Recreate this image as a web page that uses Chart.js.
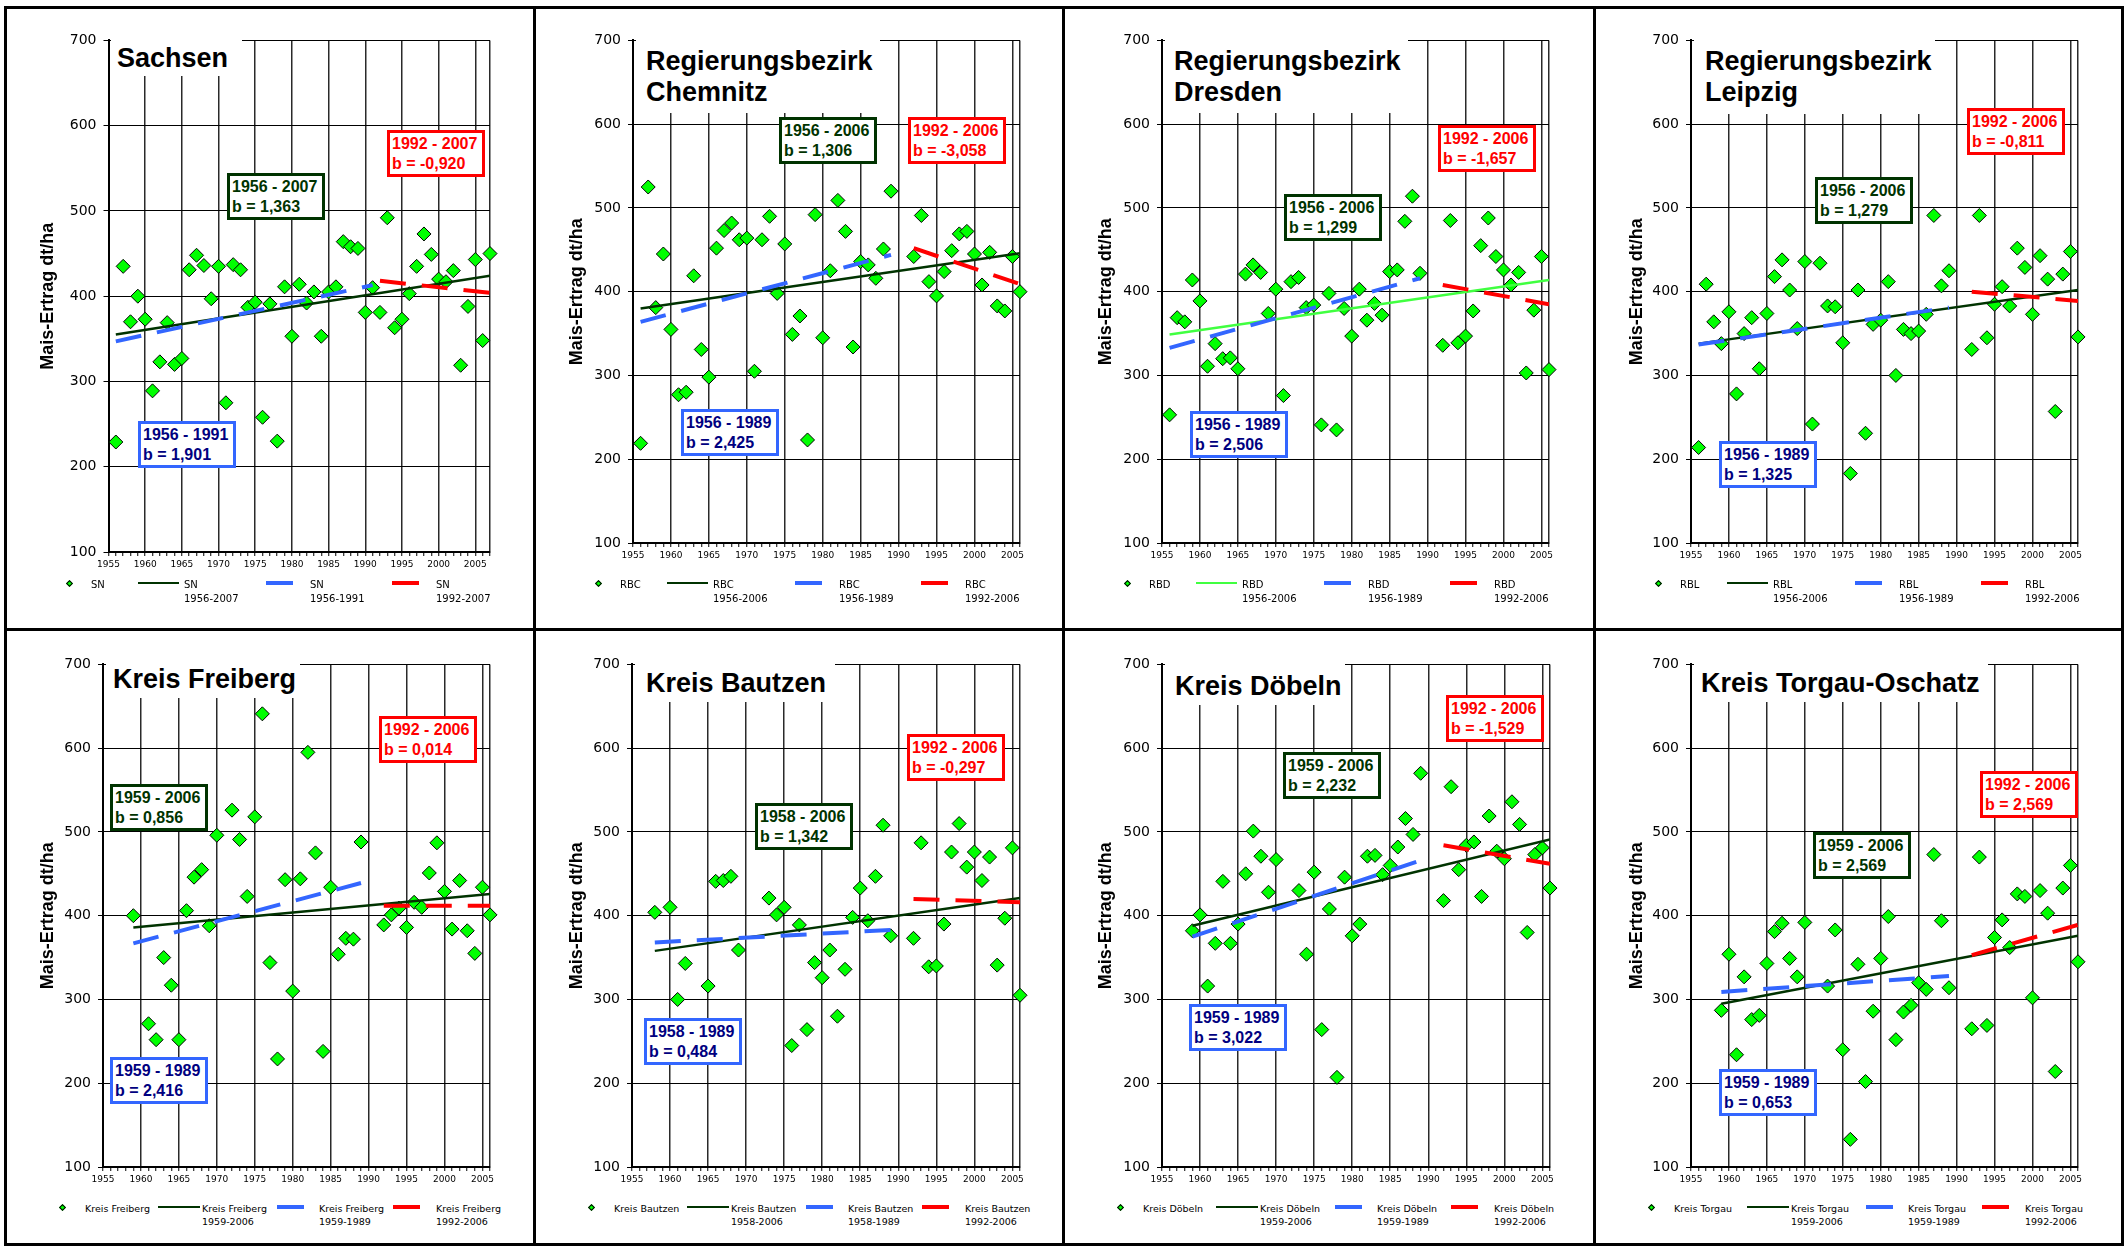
<!DOCTYPE html>
<html>
<head>
<meta charset="utf-8">
<title>Mais-Ertrag Sachsen</title>
<script src="https://cdn.jsdelivr.net/npm/chart.js@4.4.1/dist/chart.umd.min.js"></script>
<style>
  body { margin: 0; background: #fff; }
  #page { position: relative; width: 2127px; height: 1248px; overflow: hidden; background: #fff;
          font-family: "Liberation Sans", Arial, sans-serif; }
  .frame { position: absolute; background: #000; }
  canvas { position: absolute; }
  .title { position: absolute; background: #fff; font-weight: bold; font-size: 27px; line-height: 31px;
           color: #000; white-space: nowrap; box-sizing: border-box; }
  .box { position: absolute; width: 98px; height: 47px; box-sizing: border-box; border: 3px solid; background: #fff;
         font-weight: bold; font-size: 16px; line-height: 20px; padding: 1px 0 0 2px; white-space: nowrap; }
  .box.green { border-color: #003300; color: #003300; }
  .box.red { border-color: #ff0000; color: #ff0000; }
  .box.blue { border-color: #3366ff; color: #000080; }
  .leg { position: absolute; font-family: "DejaVu Sans", sans-serif; color: #000; white-space: nowrap; }
  .legline { position: absolute; }
  .legmark { position: absolute; width: 3px; height: 3px; border: 1px solid #000; background: #00ff00; transform: rotate(45deg); }
</style>
</head>
<body>
<div id="page"></div>
<script>
// Years on the x axis (one value per year)
const years = [1956, 1957, 1958, 1959, 1960, 1961, 1962, 1963, 1964, 1965,
               1966, 1967, 1968, 1969, 1970, 1971, 1972, 1973, 1974, 1975,
               1976, 1977, 1978, 1979, 1980, 1981, 1982, 1983, 1984, 1985,
               1986, 1987, 1988, 1989, 1990, 1991, 1992, 1993, 1994, 1995,
               1996, 1997, 1998, 1999, 2000, 2001, 2002, 2003, 2004, 2005,
               2006, 2007];

// Mais-Ertrag dt/ha per year (null = no value)
const yieldSN  = [229, 435, 370, 400, 373, 289, 323, 369, 320, 327, 431, 448, 436, 397, 435, 275, 437, 431, 387, 393,
                  258, 391, 230, 411, 353, 414, 392, 405, 353, 405, 411, 464, 458, 456, 381, 410, 381, 492, 363, 373,
                  403, 435, 473, 449, 420, 417, 430, 319, 388, 443, 348, 450];
const yieldRBC = [219, 525, 381, 445, 355, 277, 280, 419, 331, 298, 452, 473, 482, 462, 464, 305, 462, 490, 398, 457,
                  349, 371, 223, 492, 345, 425, 509, 472, 334, 436, 432, 416, 451, 520, null, null, 442, 491, 412, 395,
                  424, 449, 469, 472, 445, 408, 447, 383, 377, 442, 400, null];
const yieldRBD = [253, 369, 364, 414, 389, 311, 338, 320, 321, 308, 421, 432, 423, 374, 403, 276, 412, 417, 381, 384,
                  241, 398, 235, 380, 347, 403, 366, 386, 372, 424, 426, 484, 514, 422, null, null, 336, 485, 339, 347,
                  377, 455, 488, 442, 426, 408, 423, 303, 378, 442, 307, null];
const yieldRBL = [214, 409, 364, 338, 376, 278, 350, 369, 308, 374, 418, 438, 402, 356, 436, 242, 434, 383, 382, 339,
                  183, 402, 231, 361, 366, 412, 300, 355, 350, 353, 373, 491, 407, 425, null, null, 331, 491, 345, 385,
                  406, 383, 452, 429, 373, 443, 415, 257, 421, 448, 346, null];
const yieldKF  = [null, null, null, 400, null, 271, 252, 350, 317, 252, 406, 446, 455, 388, 496, null, 526, 491, 423, 518,
                  641, 344, 229, 443, 310, 444, 595, 475, 238, 434, 354, 373, 372, 488, null, null, 389, 401, 409, 386,
                  416, 410, 451, 487, 429, 384, 442, 382, 355, 434, 401, null];
const yieldKB  = [null, null, 404, null, 410, 300, 343, null, null, 316, 441, 442, 447, 359, null, null, null, 421, 401, 410,
                  245, 389, 264, 344, 326, 359, 280, 336, 398, 433, 394, 447, 508, 376, null, null, 373, 487, 339, 340,
                  390, 476, 510, 458, 476, 442, 470, 341, 397, 481, 305, null];
const yieldKD  = [null, null, null, 382, 401, 316, 367, 441, 367, 390, 450, 501, 471, 428, 467, null, null, 430, 354, 452,
                  264, 408, 207, 446, 376, 390, 471, 472, 449, 460, 482, 516, 497, 570, null, null, 418, 554, 455, 484,
                  488, 423, 519, 477, 468, 536, 509, 380, 473, 481, 433, null];
const yieldKT  = [null, null, null, 287, 354, 234, 327, 276, 281, 343, 381, 391, 349, 327, 392, null, null, 316, 383, 240,
                  133, 342, 202, 286, 349, 399, 252, 285, 293, 320, 312, 473, 394, 314, null, null, 265, 470, 269, 374,
                  395, 362, 426, 423, 302, 430, 403, 214, 433, 460, 345, null];

// Trend lines: [year, value] at start and end
const trendAllSN = [[1956, 355], [2007, 424]];
const trendEarlySN = [[1956, 347], [1991, 413]];
const trendLateSN = [[1992, 418], [2007, 404]];
const trendAllRBC = [[1956, 380], [2006, 446]];
const trendEarlyRBC = [[1956, 364], [1989, 444]];
const trendLateRBC = [[1992, 452], [2006, 409]];
const trendAllRBD = [[1956, 349], [2006, 414]];
const trendEarlyRBD = [[1956, 333], [1989, 416]];
const trendLateRBD = [[1992, 408], [2006, 385]];
const trendAllRBL = [[1956, 338], [2006, 402]];
const trendEarlyRBL = [[1956, 337], [1989, 381]];
const trendLateRBL = [[1992, 400], [2006, 389]];
const trendAllKF = [[1959, 386], [2006, 426]];
const trendEarlyKF = [[1959, 367], [1989, 439]];
const trendLateKF = [[1992, 412], [2006, 412]];
const trendAllKB = [[1958, 358], [2006, 421]];
const trendEarlyKB = [[1958, 368], [1989, 383]];
const trendLateKB = [[1992, 420], [2006, 416]];
const trendAllKD = [[1959, 388], [2006, 491]];
const trendEarlyKD = [[1959, 375], [1989, 466]];
const trendLateKD = [[1992, 484], [2006, 462]];
const trendAllKT = [[1959, 295], [2006, 376]];
const trendEarlyKT = [[1959, 309], [1989, 328]];
const trendLateKT = [[1992, 353], [2006, 389]];

// Slopes shown in the boxes: whole period, early period, late period
const slopesSN = ['1,363', '1,901', '-0,920'];
const slopesRBC = ['1,306', '2,425', '-3,058'];
const slopesRBD = ['1,299', '2,506', '-1,657'];
const slopesRBL = ['1,279', '1,325', '-0,811'];
const slopesKF = ['0,856', '2,416', '0,014'];
const slopesKB = ['1,342', '0,484', '-0,297'];
const slopesKD = ['2,232', '3,022', '-1,529'];
const slopesKT = ['2,569', '0,653', '2,569'];

const yTicks = [100, 700, 100]; // min, max, step

// Layout of the 8 panels
const colLeft = [4, 533, 1062, 1593];
const panels = [
  { title: ['Sachsen'], code: 'SN', data: yieldSN, all: trendAllSN, early: trendEarlySN, late: trendLateSN, slopes: slopesSN,
    xMax: 2007, col: 0, row: 0, plot: [108.5, 490, 35, 552], tbox: [111, 38, 242, 76], ttext: [117, 68],
    boxes: [[227, 173], [387, 130], [138, 421]], allColor: '#003300' },
  { title: ['Regierungsbezirk', 'Chemnitz'], code: 'RBC', data: yieldRBC, all: trendAllRBC, early: trendEarlyRBC, late: trendLateRBC, slopes: slopesRBC,
    xMax: 2006, col: 1, row: 0, plot: [633, 1020, 35, 543], tbox: [636, 38, 880, 113], ttext: [646, 71],
    boxes: [[779, 117], [908, 117], [681, 409]], allColor: '#003300' },
  { title: ['Regierungsbezirk', 'Dresden'], code: 'RBD', data: yieldRBD, all: trendAllRBD, early: trendEarlyRBD, late: trendLateRBD, slopes: slopesRBD,
    xMax: 2006, col: 2, row: 0, plot: [1162, 1549, 35, 543], tbox: [1165, 38, 1408, 113], ttext: [1174, 71],
    boxes: [[1284, 194], [1438, 125], [1190, 411]], allColor: '#40ff40' },
  { title: ['Regierungsbezirk', 'Leipzig'], code: 'RBL', data: yieldRBL, all: trendAllRBL, early: trendEarlyRBL, late: trendLateRBL, slopes: slopesRBL,
    xMax: 2006, col: 3, row: 0, plot: [1691, 2078, 35, 543], tbox: [1694, 38, 1935, 114], ttext: [1705, 71],
    boxes: [[1815, 177], [1967, 108], [1719, 441]], allColor: '#003300' },
  { title: ['Kreis Freiberg'], code: 'Kreis Freiberg', data: yieldKF, all: trendAllKF, early: trendEarlyKF, late: trendLateKF, slopes: slopesKF,
    xMax: 2006, col: 0, row: 1, plot: [103, 490, 659, 1167], tbox: [106, 661, 300, 698], ttext: [113, 689],
    boxes: [[110, 784], [379, 716], [110, 1057]], allColor: '#003300' },
  { title: ['Kreis Bautzen'], code: 'Kreis Bautzen', data: yieldKB, all: trendAllKB, early: trendEarlyKB, late: trendLateKB, slopes: slopesKB,
    xMax: 2006, col: 1, row: 1, plot: [632, 1020, 659, 1167], tbox: [635, 661, 835, 702], ttext: [646, 692.5],
    boxes: [[755, 803], [907, 734], [644, 1018]], allColor: '#003300' },
  { title: ['Kreis Döbeln'], code: 'Kreis Döbeln', data: yieldKD, all: trendAllKD, early: trendEarlyKD, late: trendLateKD, slopes: slopesKD,
    xMax: 2006, col: 2, row: 1, plot: [1162, 1550, 659, 1167], tbox: [1165, 661, 1345, 705], ttext: [1175, 696],
    boxes: [[1283, 752], [1446, 695], [1189, 1004]], allColor: '#003300' },
  { title: ['Kreis Torgau-Oschatz'], code: 'Kreis Torgau', data: yieldKT, all: trendAllKT, early: trendEarlyKT, late: trendLateKT, slopes: slopesKT,
    xMax: 2006, col: 3, row: 1, plot: [1691, 2078, 659, 1167], tbox: [1694, 661, 1988, 702], ttext: [1701, 692.5],
    boxes: [[1813, 832], [1980, 771], [1719, 1069]], allColor: '#003300' }
];

// Legend positions relative to the panel's left border
const legendRows = [
  { marker: 64, label1: 86, line1: [133, 174], label2: 179, line2: [261, 288], label3: 305, line3: [387, 414], label4: 431,
    y: 583, textTop: 577.5, size: 10, lh: 14 },
  { marker: 57, label1: 80, line1: [153, 195], label2: 197, line2: [272, 299], label3: 314, line3: [388, 415], label4: 431,
    y: 1207, textTop: 1202, size: 9.5, lh: 13 }
];

const page = document.getElementById('page');

function addDiv(cls, css, html) {
  const d = document.createElement('div');
  d.className = cls;
  Object.assign(d.style, css);
  if (html !== undefined) d.innerHTML = html;
  page.appendChild(d);
  return d;
}

// Frame lines
addDiv('frame', { left: '4px', top: '6px', width: '2120px', height: '3px' });
addDiv('frame', { left: '4px', top: '1243px', width: '2120px', height: '3px' });
addDiv('frame', { left: '4px', top: '628px', width: '2120px', height: '3px' });
addDiv('frame', { left: '4px', top: '6px', width: '3px', height: '1240px' });
addDiv('frame', { left: '2121px', top: '6px', width: '3px', height: '1240px' });
colLeft.slice(1).forEach(x => addDiv('frame', { left: x + 'px', top: '6px', width: '3px', height: '1240px' }));

Chart.defaults.font.family = '"DejaVu Sans", sans-serif';

panels.forEach(p => {
  const cl = colLeft[p.col] + 3;
  const [pl, pr, pt, pb] = p.plot;
  const padTop = 10, padRight = 8, xH = 28;
  const canvas = document.createElement('canvas');
  canvas.width = Math.round(pr - cl + padRight);
  canvas.height = Math.round(pb - pt + padTop + xH);
  canvas.style.left = cl + 'px';
  canvas.style.top = (pt - padTop) + 'px';
  page.appendChild(canvas);

  const points = years.map((yr, i) => ({ x: yr, y: p.data[i] })).filter(d => d.y !== null);
  const toXY = arr => arr.map(d => ({ x: d[0], y: d[1] }));
  const dashed = { borderWidth: 4, borderDash: [26, 16], borderCapStyle: 'butt' };

  new Chart(canvas.getContext('2d'), {
    type: 'scatter',
    data: {
      datasets: [
        { data: points, pointStyle: 'rectRot', pointRadius: 7, backgroundColor: '#00ff00',
          borderColor: '#000', borderWidth: 1, order: 10, clip: false },
        { data: toXY(p.all), showLine: true, pointRadius: 0, borderColor: p.allColor, borderWidth: 2.5, order: 3 },
        Object.assign({ data: toXY(p.early), showLine: true, pointRadius: 0, borderColor: '#3366ff', order: 2 }, dashed),
        Object.assign({ data: toXY(p.late), showLine: true, pointRadius: 0, borderColor: '#ff0000', order: 1 }, dashed)
      ]
    },
    options: {
      responsive: false,
      animation: false,
      events: [],
      layout: { padding: { top: padTop, right: padRight, left: 0, bottom: 0 } },
      plugins: { legend: { display: false }, tooltip: { enabled: false } },
      scales: {
        x: {
          type: 'linear', min: 1955, max: p.xMax,
          afterFit: s => { s.height = xH; },
          ticks: {
            stepSize: 1, autoSkip: false, maxTicksLimit: 100, maxRotation: 0, minRotation: 0, padding: 3,
            color: '#000', font: { size: 9 },
            callback: v => (v % 5 === 0 ? String(v) : '')
          },
          grid: {
            color: c => (c.tick && (c.tick.value % 5 === 0 || c.tick.value === p.xMax)) ? '#2a2a2a' : 'rgba(0,0,0,0)',
            lineWidth: 1.5, tickColor: '#000', tickLength: 4, tickWidth: 1
          },
          border: { color: '#000', width: 2 }
        },
        y: {
          min: yTicks[0], max: yTicks[1],
          afterFit: s => { s.width = pl - cl; },
          ticks: { stepSize: yTicks[2], padding: 7, color: '#000', font: { size: 14 } },
          grid: { color: '#000', lineWidth: 1, tickLength: 5, tickColor: '#000' },
          border: { color: '#000', width: 2 },
          title: {
            display: true, text: 'Mais-Ertrag dt/ha', color: '#000',
            font: { family: '"Liberation Sans", Arial, sans-serif', size: 18, weight: 'bold' },
            padding: { top: 30, bottom: 0 }
          }
        }
      }
    }
  });

  // Title with white background
  const [bx0, by0, bx1, by1] = p.tbox;
  addDiv('title', {
    left: bx0 + 'px', top: by0 + 'px', width: (bx1 - bx0) + 'px', height: (by1 - by0) + 'px',
    paddingLeft: (p.ttext[0] - bx0) + 'px', paddingTop: (p.ttext[1] - 24.8 - by0) + 'px'
  }, p.title.join('<br>'));

  // Period / slope boxes
  const periods = [p.all, p.early, p.late];
  const kinds = ['green', 'blue', 'red'];
  const boxPos = [p.boxes[0], p.boxes[2], p.boxes[1]];
  periods.forEach((per, i) => {
    addDiv('box ' + kinds[i], { left: boxPos[i][0] + 'px', top: boxPos[i][1] + 'px' },
      per[0][0] + ' - ' + per[1][0] + '<br>b = ' + p.slopes[i]);
  });

  // Legend
  const L = legendRows[p.row];
  const x0 = colLeft[p.col] + 1;
  const textCss = (x) => ({ left: (x0 + x) + 'px', top: L.textTop + 'px', fontSize: L.size + 'px', lineHeight: L.lh + 'px' });
  addDiv('legmark', { left: (x0 + L.marker - 2.5) + 'px', top: (L.y - 2.5) + 'px' });
  addDiv('leg', textCss(L.label1), p.code);
  addDiv('legline', { left: (x0 + L.line1[0]) + 'px', top: (L.y - 1.25) + 'px', width: (L.line1[1] - L.line1[0]) + 'px', height: '2.5px', background: p.allColor });
  addDiv('leg', textCss(L.label2), p.code + '<br>' + p.all[0][0] + '-' + p.all[1][0]);
  addDiv('legline', { left: (x0 + L.line2[0]) + 'px', top: (L.y - 2) + 'px', width: (L.line2[1] - L.line2[0]) + 'px', height: '4px', background: '#3366ff' });
  addDiv('leg', textCss(L.label3), p.code + '<br>' + p.early[0][0] + '-' + p.early[1][0]);
  addDiv('legline', { left: (x0 + L.line3[0]) + 'px', top: (L.y - 2) + 'px', width: (L.line3[1] - L.line3[0]) + 'px', height: '4px', background: '#ff0000' });
  addDiv('leg', textCss(L.label4), p.code + '<br>' + p.late[0][0] + '-' + p.late[1][0]);
});
</script>
</body>
</html>
